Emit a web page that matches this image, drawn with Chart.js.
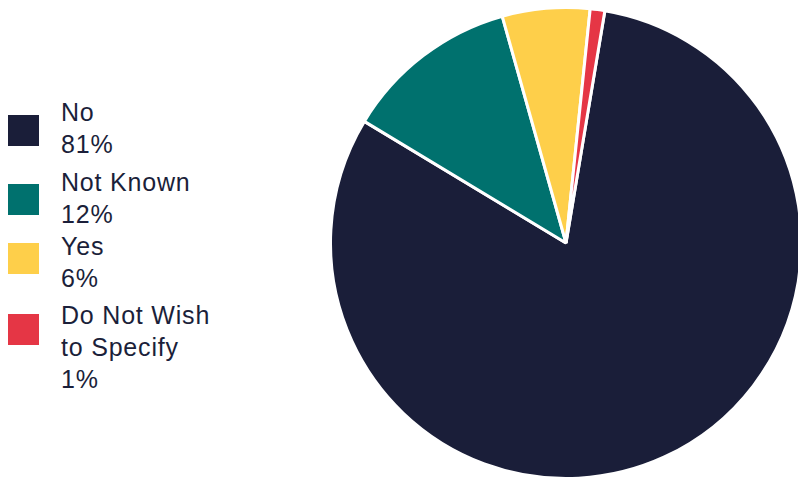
<!DOCTYPE html>
<html>
<head>
<meta charset="utf-8">
<script src="https://cdn.jsdelivr.net/npm/chart.js@4.4.1/dist/chart.umd.min.js"></script>
<style>
  html, body { margin: 0; padding: 0; background: #fff; overflow: hidden; }
  body { width: 798px; height: 481px; position: relative; }
  #pieWrap { position: absolute; left: 326px; top: 3px; width: 480px; height: 480px; }
  .swatch { position: absolute; left: 8px; width: 31px; height: 31px; }
  .label {
    position: absolute; left: 61px;
    font-family: "Liberation Sans", Arial, Helvetica, sans-serif;
    font-size: 25px; line-height: 32px; letter-spacing: 0.8px;
    color: #1b1f3a;
  }
</style>
</head>
<body>
<div id="legend"></div>
<div id="pieWrap"><canvas id="pie"></canvas></div>
<script>
// Данные
var categories = ["No", "Not Known", "Yes", "Do Not Wish to Specify"];
var legendLines = [["No"], ["Not Known"], ["Yes"], ["Do Not Wish", "to Specify"]];
var percents = [81, 12, 6, 1];
var colors = ['#1a1e39', '#00716e', '#fecf4a', '#e53645'];

// положение элементов легенды (верх текста, верх квадрата)
var textTops = [96, 166, 230, 299];
var swatchTops = [115, 184, 243, 314];

// ============== легенда
var legend = document.getElementById('legend');
for (var i = 0; i < categories.length; i++) {
	var sw = document.createElement('div');
	sw.className = 'swatch';
	sw.style.top = swatchTops[i] + 'px';
	sw.style.background = colors[i];
	legend.appendChild(sw);

	var lb = document.createElement('div');
	lb.className = 'label';
	lb.style.top = textTops[i] + 'px';
	lb.innerHTML = legendLines[i].join('<br>') + '<br>' + percents[i] + '%';
	legend.appendChild(lb);
}

// ============== pie
var ctxPie = document.getElementById('pie').getContext('2d');
var pie = new Chart(ctxPie, {
    type: 'pie',
    data: {
        labels: categories,
        datasets: [{
            backgroundColor: colors,
            borderColor: 'white',
            borderWidth: 3,
            data: percents,
        }]
    },
    options: {
        responsive: true,
        maintainAspectRatio: false,
        animation: false,
        rotation: 9.5,
        layout: { padding: 3 },
        plugins: {
            legend: { display: false },
            tooltip: { enabled: false }
        }
    }
});
</script>
</body>
</html>
